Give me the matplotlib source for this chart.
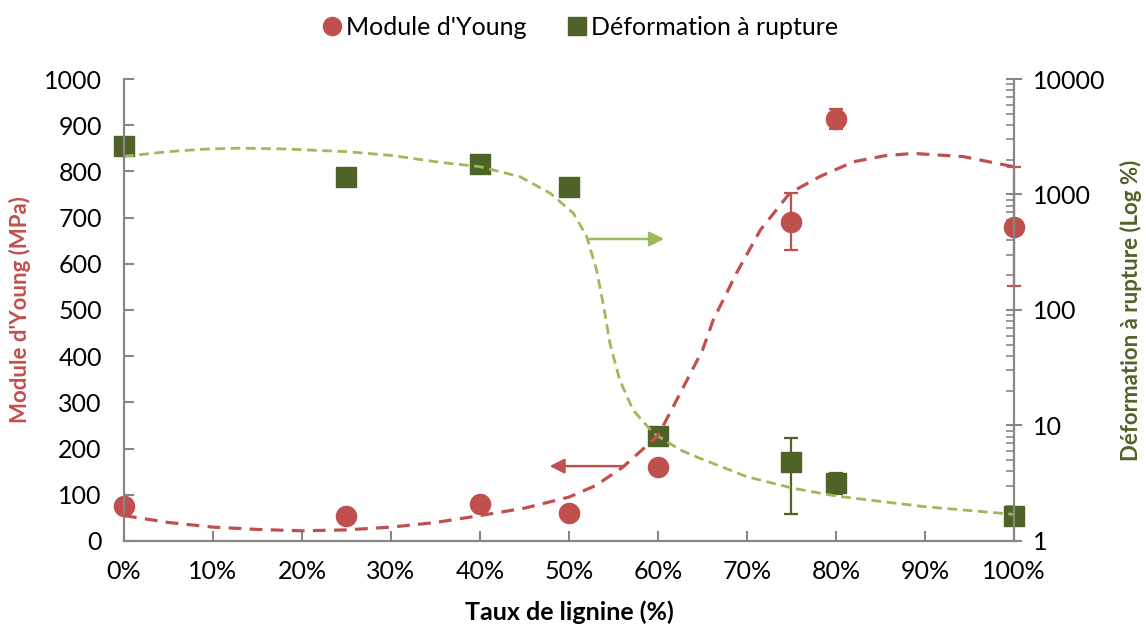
import numpy as np
import matplotlib.pyplot as plt
from matplotlib.ticker import PercentFormatter, LogLocator, NullFormatter

plt.rcParams['font.family'] = ['Lato', 'DejaVu Sans']

# measured points
taux = [0.0, 0.25, 0.40, 0.50, 0.60, 0.75, 0.80, 1.00]
module = [76, 53, 80, 61, 160, 691, 913, 680]
module_err = [0, 0, 0, 0, 0, 62, 21, 129]
deform = [2630, 1420, 1840, 1160, 8.1, 4.8, 3.2, 1.66]
deform_err_lo = [0, 0, 0, 0, 0, 3.1, 0.65, 0]
deform_err_hi = [0, 0, 0, 0, 0, 3.0, 0.7, 0]

# trend curves
trend_x_red = [0.0, 0.05, 0.10, 0.15, 0.20, 0.25, 0.30, 0.35, 0.40, 0.45, 0.50, 0.53,
               0.56, 0.60, 0.625, 0.65, 0.662, 0.688, 0.715, 0.748, 0.782, 0.82,
               0.855, 0.887, 0.943, 1.0]
trend_y_red = [55, 40, 30, 25, 22, 24, 30, 40, 55, 71, 95, 120,
               159, 228, 320, 413, 478, 579, 673, 753, 789, 821,
               834, 839, 832, 810]
trend_x_green = [0.0, 0.05, 0.09, 0.13, 0.18, 0.25, 0.30, 0.355, 0.40, 0.445, 0.479,
                 0.505, 0.52, 0.531, 0.539, 0.546, 0.557, 0.572, 0.595, 0.625, 0.647,
                 0.70, 0.75, 0.80, 0.90, 1.0]
trend_y_green = [2140, 2350, 2470, 2520, 2480, 2350, 2180, 1900, 1742, 1426, 1024,
                 687, 431, 222, 107, 51.5, 24.8, 13.6, 8.56, 6.14, 5.2,
                 3.6, 2.88, 2.45, 1.98, 1.70]

red = '#C0504D'
dgreen = '#4F6228'
lgreen = '#9BBB59'
grey = '#868686'

fig = plt.figure(figsize=(11.46, 6.27), dpi=100)
ax = fig.add_axes([0.1082, 0.1372, 0.7766, 0.7368])
ax2 = ax.twinx()
ax.set_zorder(ax2.get_zorder() + 1)
ax.patch.set_visible(False)

ax.plot(trend_x_red, trend_y_red, color=red, lw=2.3, dashes=(4, 2.6), zorder=3, clip_on=False)
ax.errorbar(taux, module, yerr=module_err, fmt='o', color=red, ms=14.5, capsize=5,
            elinewidth=1.6, capthick=1.6, clip_on=False, zorder=2, label="Module d'Young")

ax2.errorbar(taux, deform, yerr=[deform_err_lo, deform_err_hi], fmt='s', color=dgreen,
             ms=14, capsize=5, elinewidth=1.6, capthick=1.6, clip_on=False, zorder=2,
             label='Déformation à rupture')
ax2.plot(trend_x_green, trend_y_green, color=lgreen, lw=2, dashes=(3.5, 2), zorder=3, clip_on=False)

ax.set_xlim(0, 1)
ax.set_ylim(0, 1000)
ax.set_yticks(np.arange(0, 1001, 100))
ax.set_xticks(np.arange(0, 1.01, 0.1))
ax.xaxis.set_major_formatter(PercentFormatter(1.0, decimals=0))

ax2.set_yscale('log')
ax2.set_ylim(1, 10000)
ax2.yaxis.set_minor_locator(LogLocator(base=10, subs=np.arange(2, 10), numticks=10))
ax2.yaxis.set_minor_formatter(NullFormatter())
ax2.set_yticks([1, 10, 100, 1000, 10000])
ax2.set_yticklabels(['1', '10', '100', '1000', '10000'])

for a in (ax, ax2):
    a.spines['top'].set_visible(False)
    for s in ('left', 'right', 'bottom'):
        a.spines[s].set_color(grey)
        a.spines[s].set_linewidth(1.5)

ax.tick_params(axis='both', which='major', direction='in', length=7, width=1.5,
               color=grey, labelsize=18)
ax.tick_params(axis='y', pad=16)
ax.tick_params(axis='x', pad=14)
ax2.tick_params(axis='y', which='major', direction='inout', length=12, width=1.5,
                color=grey, labelsize=18, pad=8)
ax2.tick_params(axis='y', which='minor', direction='in', length=6, width=1.2, color=grey)

ax.set_xlabel('Taux de lignine (%)', fontsize=18, fontweight='bold', labelpad=12)
ax.set_ylabel("Module d'Young (MPa)", fontsize=16, fontweight='bold', color=red, labelpad=9)
ax2.set_ylabel('Déformation à rupture (Log %)', fontsize=16, fontweight='bold',
               color=dgreen, labelpad=10)

# direction arrows
ax.annotate('', xy=(0.475, 162), xytext=(0.565, 162),
            arrowprops=dict(arrowstyle='-|>', color=red, lw=1.8, mutation_scale=22))
ax2.annotate('', xy=(0.61, 412), xytext=(0.52, 412),
             arrowprops=dict(arrowstyle='-|>', color=lgreen, lw=1.8, mutation_scale=22))

h1, l1 = ax.get_legend_handles_labels()
h2, l2 = ax2.get_legend_handles_labels()
fig.legend([h1[0][0], h2[0][0]], [l1[0], l2[0]], loc='upper center',
           bbox_to_anchor=(0.505, 1.01), ncol=2, frameon=False, fontsize=18,
           handletextpad=0.05, columnspacing=1.55, handlelength=1.0, markerscale=0.9)

fig.savefig('out.png', dpi=100)
